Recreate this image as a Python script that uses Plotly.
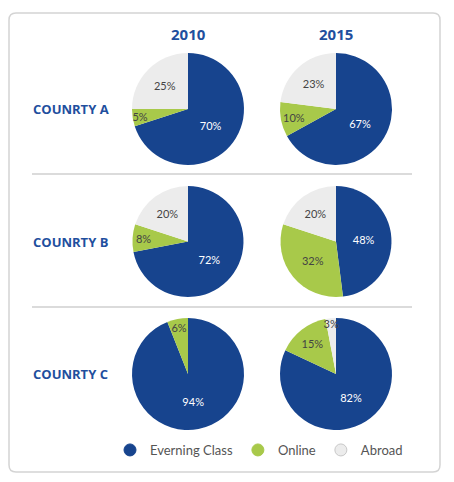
import plotly.graph_objects as go

categories = ["Everning Class", "Online", "Abroad"]
years = ["2010", "2015"]
countries = ["COUNRTY A", "COUNRTY B", "COUNRTY C"]
country_a = {"2010": [70, 5, 25], "2015": [67, 10, 23]}
country_b = {"2010": [72, 8, 20], "2015": [48, 32, 20]}
country_c = {"2010": [94, 6, 0], "2015": [82, 15, 3]}
series = [country_a, country_b, country_c]

colors = ["#17448e", "#a8c94a", "#ececec"]
text_colors = ["#ffffff", "#444444", "#444444"]
blue = "#1f4f9e"

# page body has an 8px margin; figure coordinates are screen pixels minus 8
OFF = 8
W, H = 454 - OFF, 482 - OFF
px = lambda v: (v - OFF) / W
py = lambda v: 1 - (v - OFF) / H

col_x = [(132, 244), (280, 392)]
row_y = [(53, 165), (186, 297), (318, 430)]

fig = go.Figure()
for r, data in enumerate(series):
    for c, yr in enumerate(years):
        vals = data[yr]
        labs = [categories[i] for i in range(3) if vals[i] > 0]
        v = [x for x in vals if x > 0]
        cols = [colors[i] for i in range(3) if vals[i] > 0]
        tcols = [text_colors[i] for i in range(3) if vals[i] > 0]
        fig.add_trace(go.Pie(
            labels=labs, values=v, sort=False, direction="clockwise", rotation=0,
            marker=dict(colors=cols, line=dict(width=0)),
            texttemplate="%{value}%", textposition="inside",
            insidetextorientation="horizontal",
            textfont=dict(color=tcols, size=11, family="Lato"),
            showlegend=False, hoverinfo="label+percent",
            domain=dict(x=[px(col_x[c][0]), px(col_x[c][1])],
                        y=[py(row_y[r][1]), py(row_y[r][0])]),
        ))

for i, cat in enumerate(categories):
    fig.add_trace(go.Scatter(
        x=[None], y=[None], mode="markers", name=cat,
        marker=dict(symbol="circle", size=12, color=colors[i],
                    line=dict(color="#c8c8c8" if i == 2 else colors[i], width=1)),
    ))

annotations = []
for c, yr in enumerate(years):
    annotations.append(dict(x=px((col_x[c][0] + col_x[c][1]) / 2), y=py(34), xref="paper", yref="paper",
                            xanchor="center", yanchor="middle",
                            text=f"<b>{yr}</b>", showarrow=False,
                            font=dict(size=15, color=blue, family="Open Sans")))
for r, name in enumerate(countries):
    annotations.append(dict(x=px(31), y=py((row_y[r][0] + row_y[r][1]) / 2), xref="paper", yref="paper",
                            xanchor="left", yanchor="middle", text=f"<b>{name}</b>", showarrow=False,
                            font=dict(size=13, color=blue, family="Open Sans")))

rr = 7
L, R, T, B = 9, 440, 13, 472
shapes = [
    dict(type="path", xref="paper", yref="paper",
         path=(f"M {px(L+rr)} {py(T)} L {px(R-rr)} {py(T)} Q {px(R)} {py(T)} {px(R)} {py(T+rr)} "
               f"L {px(R)} {py(B-rr)} Q {px(R)} {py(B)} {px(R-rr)} {py(B)} "
               f"L {px(L+rr)} {py(B)} Q {px(L)} {py(B)} {px(L)} {py(B-rr)} "
               f"L {px(L)} {py(T+rr)} Q {px(L)} {py(T)} {px(L+rr)} {py(T)} Z"),
         line=dict(color="#d4d4d4", width=1.5), fillcolor="rgba(0,0,0,0)", layer="below"),
    dict(type="line", xref="paper", yref="paper", x0=px(32), x1=px(412), y0=py(174), y1=py(174),
         line=dict(color="#cfcfcf", width=1.5)),
    dict(type="line", xref="paper", yref="paper", x0=px(32), x1=px(412), y0=py(307), y1=py(307),
         line=dict(color="#cfcfcf", width=1.5)),
]

fig.update_layout(
    width=W, height=H, margin=dict(l=0, r=0, t=0, b=0),
    paper_bgcolor="white", plot_bgcolor="white",
    annotations=annotations, shapes=shapes,
    xaxis=dict(visible=False), yaxis=dict(visible=False),
    uniformtext=dict(minsize=11, mode="show"),
    legend=dict(orientation="h", x=px(110), y=py(450), xanchor="left", yanchor="middle",
                font=dict(size=13, color="#555555", family="Lato"), itemwidth=30,
                bgcolor="rgba(0,0,0,0)"),
    font=dict(family="Lato"),
)

fig.write_html("out.html")
